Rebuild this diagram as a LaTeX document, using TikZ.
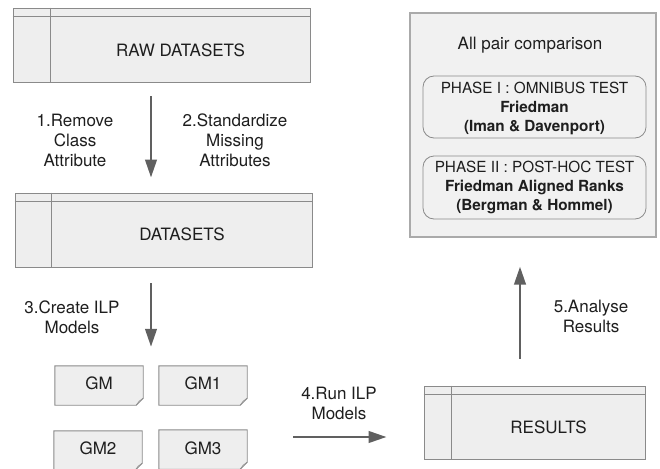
\documentclass[tikz,border=0pt]{standalone}
\usepackage{fontspec}
\setmainfont{TeX Gyre Heros}
\usetikzlibrary{arrows.meta,calc}
\definecolor{boxfill}{HTML}{EEEEEE}
\definecolor{boxline}{HTML}{8A8A8A}
\definecolor{bigline}{HTML}{AAAAAA}
\definecolor{bigfill}{HTML}{F1F1F1}
\definecolor{arrowc}{HTML}{606060}
\definecolor{txt}{HTML}{1E1E1E}
\tikzset{
  dbbox/.style={draw=boxline, fill=boxfill, line width=0.9pt, inner sep=0pt},
  gmbox/.style={draw=none, fill=none, inner sep=0pt, minimum width=88pt, minimum height=39pt},
  gmline/.style={draw=boxline, fill=boxfill, line width=0.9pt},
  bigbox/.style={draw=bigline, fill=bigfill, line width=1.2pt, inner sep=0pt},
  phasebox/.style={draw=boxline, fill=bigfill, rounded corners=11pt, line width=0.8pt, inner sep=0pt},
  lbl/.style={text=txt, font=\fontsize{17}{20}\selectfont, align=center, inner sep=0pt},
  ptxt/.style={text=txt, font=\fontsize{15.3}{19}\selectfont, align=center, inner sep=0pt},
  flow/.style={draw=arrowc, line width=2.6pt, -{Triangle[length=18pt,width=11.5pt]}},
}
\begin{document}
\begin{tikzpicture}[x=1pt,y=-1pt]
\useasboundingbox (0,0) rectangle (660,468);
\clip (0,0) rectangle (660,468);
% RAW DATASETS
\node[dbbox, minimum width=297pt, minimum height=74pt] (raw) at (161.5,45) {};
\draw[boxline, line width=0.9pt] ([yshift=-9pt]raw.north west) -- ([yshift=-9pt]raw.north east);
\draw[boxline, line width=0.9pt] ([xshift=37.5pt]raw.north west) -- ([xshift=37.5pt]raw.south west);
\node[lbl] (rawt) at (180.5,50) {RAW DATASETS};
% DATASETS
\node[dbbox, minimum width=297pt, minimum height=74pt] (ds) at (163.5,230) {};
\draw[boxline, line width=0.9pt] ([yshift=-9pt]ds.north west) -- ([yshift=-9pt]ds.north east);
\draw[boxline, line width=0.9pt] ([xshift=37pt]ds.north west) -- ([xshift=37pt]ds.south west);
\node[lbl] (dst) at (182,234.5) {DATASETS};
% RESULTS
\node[dbbox, minimum width=221pt, minimum height=73pt] (res) at (534.5,422.5) {};
\draw[boxline, line width=0.9pt] ([yshift=-9pt]res.north west) -- ([yshift=-9pt]res.north east);
\draw[boxline, line width=0.9pt] ([xshift=28pt]res.north west) -- ([xshift=28pt]res.south west);
\node[lbl] (rest) at (548.5,427) {RESULTS};
% Big comparison box
\node[bigbox, minimum width=246pt, minimum height=224pt] (big) at (533,125) {};
\node[lbl] (allp) at (530,45) {All pair comparison};
\node[phasebox, minimum width=223pt, minimum height=62pt] (p1) at (534.5,107) {};
\node[ptxt] (p1t) at (534.5,108.5) {PHASE I : OMNIBUS TEST\\\textbf{Friedman}\\\textbf{(Iman \& Davenport)}};
\node[phasebox, minimum width=223pt, minimum height=63pt] (p2) at (534.5,187.5) {};
\node[ptxt] (p2t) at (534.5,187) {PHASE II : POST-HOC TEST\\\textbf{Friedman Aligned Ranks}\\\textbf{(Bergman \& Hommel)}};
% GM boxes
\foreach \n/\cx/\cy/\t/\ty in {gm/99/385.5/GM/383, gma/203/385.5/GM1/383, gmb/98/450.5/GM2/448, gmc/203/449.5/GM3/448}{
  \node[gmbox] (\n) at (\cx,\cy) {};
  \draw[gmline] (\n.north west) -- (\n.north east) -- ([yshift=7pt]\n.south east) -- ([xshift=-7pt]\n.south east) -- (\n.south west) -- cycle;
  \draw[boxline, fill=boxline!60, line width=0.6pt] ([yshift=7pt]\n.south east) -- ([xshift=-4pt,yshift=4pt]\n.south east) -- ([xshift=-7pt]\n.south east);
  \node[lbl] (\n t) at (\n.center |- 0,\ty) {\t};
}
% arrows
\draw[flow] ([xshift=-10.5pt,yshift=-14pt]raw.south) -- ([xshift=-12.5pt,yshift=15pt]ds.north);
\draw[flow] ([xshift=-12.5pt,yshift=-16pt]ds.south) -- ([xshift=52pt,yshift=19pt]gm.north);
\draw[flow] ($(gmc.east)+(46,-12.5)$) -- ($(res.west |- gmc.east)+(-37,-12.5)$);
\draw[flow] ([xshift=-14.5pt,yshift=27pt]res.north) -- ([xshift=-13pt,yshift=-29pt]big.south);
% labels
\node[lbl] (l1) at (75,140) {1.Remove\\Class\\Attribute};
\node[lbl] (l2) at (235,140) {2.Standardize\\Missing\\Attributes};
\node[lbl] (l3) at (72,317) {3.Create ILP\\Models};
\node[lbl] (l4) at (339,403.5) {4.Run ILP\\Models};
\node[lbl] (l5) at (591,316.5) {5.Analyse\\Results};
\end{tikzpicture}
\end{document}
